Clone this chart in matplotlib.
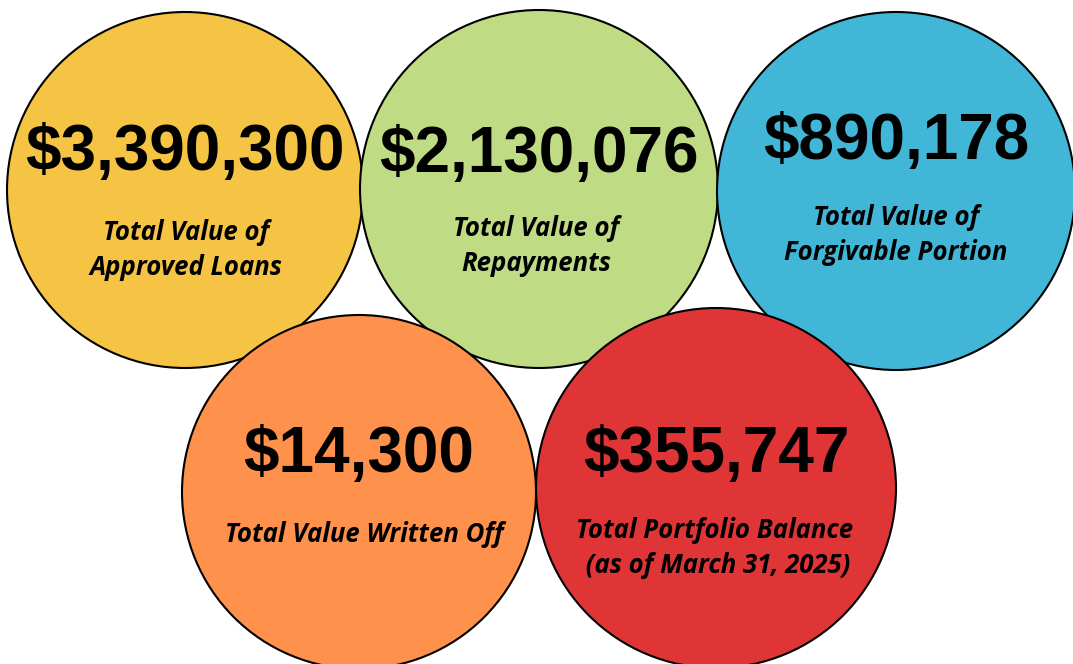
import matplotlib.pyplot as plt
from matplotlib.patches import Circle

# values and labels shown in each bubble
amounts = ['$3,390,300', '$2,130,076', '$890,178', '$14,300', '$355,747']
captions = ['Total Value of\nApproved Loans',
            'Total Value of\nRepayments',
            'Total Value of\nForgivable Portion',
            'Total Value Written Off',
            'Total Portfolio Balance\n (as of March 31, 2025)']
colors = ['#F5C445', '#BFDC84', '#41B6D6', '#FE914C', '#E03536']

# bubble layout in pixel space (x, y, radius)
centers = [(185, 190), (539, 189), (896, 191), (359, 492), (716, 488)]
radius = [178, 179, 179, 177, 180]
amount_y = [153, 155, 142, 455, 455]
caption_y = [250, 246, 235, 534, 548]
caption_x = [186, 536, 896, 364, 715]

fig = plt.figure(figsize=(10.73, 6.64), dpi=100)
ax = fig.add_axes([0, 0, 1, 1])
ax.set_xlim(0, 1073)
ax.set_ylim(664, 0)
ax.set_aspect('equal')
ax.axis('off')

for i in range(len(amounts)):
    ax.add_patch(Circle(centers[i], radius[i], facecolor=colors[i],
                        edgecolor='black', linewidth=1.5, zorder=i + 1))
    ax.text(centers[i][0], amount_y[i], amounts[i], ha='center', va='center',
            fontsize=46, fontweight='bold', family='Liberation Sans',
            color='black', zorder=10)
    ax.text(caption_x[i], caption_y[i], captions[i], ha='center', va='center',
            fontsize=18.5, fontweight='bold', style='italic', family='Open Sans',
            color='black', linespacing=1.42, zorder=10)

fig.savefig('out.png', dpi=100)
